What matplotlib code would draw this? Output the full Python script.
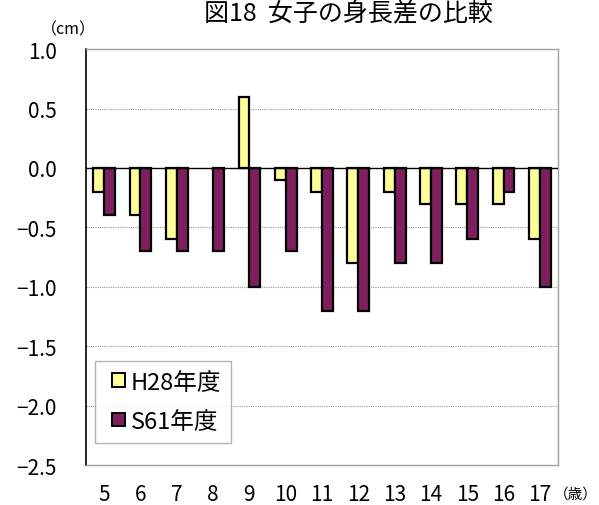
import matplotlib
matplotlib.use("Agg")
import matplotlib.pyplot as plt
import numpy as np
from matplotlib.patches import Patch, Rectangle
from matplotlib.legend_handler import HandlerPatch

plt.rcParams['font.family'] = ['Noto Sans CJK JP', 'DejaVu Sans']

ages = ['5', '6', '7', '8', '9', '10', '11', '12', '13', '14', '15', '16', '17']
h28 = [-0.2, -0.4, -0.6, 0.0, 0.6, -0.1, -0.2, -0.8, -0.2, -0.3, -0.3, -0.3, -0.6]
s61 = [-0.4, -0.7, -0.7, -0.7, -1.0, -0.7, -1.2, -1.2, -0.8, -0.8, -0.6, -0.2, -1.0]
yticks = [1.0, 0.5, 0.0, -0.5, -1.0, -1.5, -2.0, -2.5]
series_names = ['H28年度', 'S61年度']
colors = ['#FFFF99', '#7F1F5F']

fig = plt.figure(figsize=(5.99, 5.06), dpi=100)
ax = fig.add_axes([0.1436, 0.079, 0.788, 0.822])

x = np.arange(len(ages))
w = 0.3
for i, (vals, c) in enumerate(zip([h28, s61], colors)):
    bars = ax.bar(x + (i - 0.5) * w, vals, width=w, color=c, edgecolor='black',
                  linewidth=1.6, zorder=3)
    for b, v in zip(bars, vals):
        if v == 0:
            b.set_linewidth(0)

ax.set_xlim(-0.5, len(ages) - 0.5)
ax.set_ylim(-2.5, 1.0)
ax.set_yticks(yticks)
ax.set_yticklabels([f'{v:.1f}'.replace('-', '−') for v in yticks], fontsize=15)
ax.set_xticks(x)
ax.set_xticklabels(ages, fontsize=15)
ax.tick_params(axis='x', length=0, pad=13)
ax.tick_params(axis='y', length=0, pad=21)

for v in [0.5, -0.5, -1.0, -1.5, -2.0]:
    ax.axhline(v, color='#999999', linestyle=(0, (1, 1)), linewidth=0.8, zorder=1)
ax.axhline(0, color='black', linewidth=1.0, zorder=4)

ax.spines['left'].set_color('black')
ax.spines['left'].set_linewidth(1.2)
for s in ['top', 'right', 'bottom']:
    ax.spines[s].set_color('#A0A0A0')
    ax.spines[s].set_linewidth(1.0)


def square_patch(legend, orig_handle, xdescent, ydescent, width, height, fontsize):
    s = height
    return Rectangle((-xdescent + width - s, -ydescent), s, s)


handles = [Patch(facecolor=c, edgecolor='black', linewidth=1.4) for c in colors]
leg = ax.legend(handles, series_names, loc='lower left', bbox_to_anchor=(0.019, 0.053),
                fontsize=17, frameon=True, fancybox=False, edgecolor='#A0A0A0',
                handlelength=0.85, handleheight=0.5, handletextpad=0.25,
                labelspacing=0.7, borderpad=0.42, borderaxespad=0,
                handler_map={Patch: HandlerPatch(patch_func=square_patch)})
leg.get_frame().set_linewidth(1.0)

fig.text(0.581, 0.972, '図18  女子の身長差の比較', ha='center', va='center', fontsize=18)
fig.text(0.115, 0.94, '（cm）', ha='center', va='center', fontsize=11.5)
fig.text(0.962, 0.022, '（歳）', ha='center', va='center', fontsize=10.5)

fig.savefig('out.png', dpi=100)
